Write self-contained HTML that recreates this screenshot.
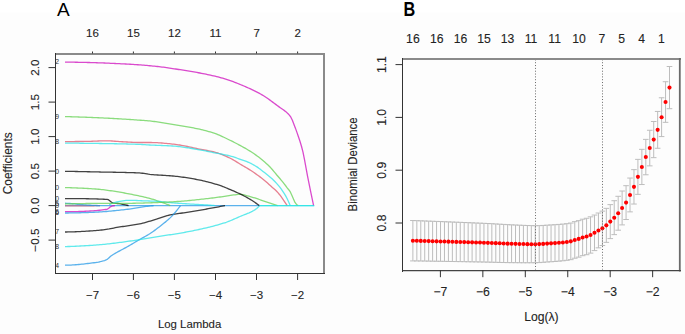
<!DOCTYPE html>
<html><head><meta charset="utf-8"><style>
html,body{margin:0;padding:0;background:#fff;width:685px;height:334px;overflow:hidden}
svg{display:block}
</style></head><body>
<svg width="685" height="334" viewBox="0 0 685 334">
<style>text{paint-order:normal}.t{stroke:#333;stroke-width:0.12px}</style>
<rect width="685" height="334" fill="#ffffff"/>
<rect y="12.6" width="685" height="322" fill="#fdfdfd"/>
<defs><clipPath id="cl"><rect x="55.5" y="53.5" width="268" height="219.5"/></clipPath></defs>
<g clip-path="url(#cl)">
<polyline points="65.00,205.60 259.80,205.60" fill="none" stroke="#2297E6" stroke-width="1.3" stroke-opacity="0.74" stroke-linejoin="round"/>
<polyline points="259.80,205.60 314.20,205.60" fill="none" stroke="#28E2E5" stroke-width="1.3" stroke-opacity="0.74" stroke-linejoin="round"/>
<polyline points="65.00,198.60 66.55,198.60 68.10,198.60 69.65,198.60 71.20,198.61 72.76,198.61 74.31,198.62 75.86,198.63 77.41,198.64 78.96,198.65 80.51,198.67 82.06,198.68 83.61,198.70 85.17,198.72 86.72,198.75 88.27,198.77 89.82,198.81 91.37,198.84 92.92,198.87 94.47,198.91 96.02,198.96 97.58,199.00 99.13,199.06 100.68,199.11 102.23,199.17 103.78,199.23 105.33,199.30 106.88,199.37 108.43,199.71 109.99,200.94 111.54,202.24 113.09,202.80 114.64,203.10 116.19,203.32 117.74,203.51 119.29,203.72 120.84,203.98 122.40,204.27 123.95,204.58 125.50,204.91 127.05,205.25 128.60,205.60" fill="none" stroke="#000000" stroke-width="1.3" stroke-opacity="0.74" stroke-linejoin="round"/>
<polyline points="65.00,205.90 66.59,205.90 68.18,205.90 69.77,205.90 71.36,205.89 72.95,205.89 74.55,205.88 76.14,205.88 77.73,205.87 79.32,205.86 80.91,205.86 82.50,205.85 84.09,205.84 85.68,205.83 87.27,205.82 88.86,205.81 90.45,205.80 92.05,205.78 93.64,205.75 95.23,205.72 96.82,205.68 98.41,205.64 100.00,205.60" fill="none" stroke="#DF536B" stroke-width="1.3" stroke-opacity="0.74" stroke-linejoin="round"/>
<polyline points="65.00,187.60 66.52,187.63 68.05,187.67 69.57,187.71 71.10,187.76 72.62,187.81 74.15,187.87 75.67,187.93 77.20,187.99 78.72,188.05 80.25,188.12 81.77,188.19 83.30,188.26 84.82,188.34 86.34,188.42 87.87,188.51 89.39,188.60 90.92,188.70 92.44,188.80 93.97,188.91 95.49,189.02 97.02,189.14 98.54,189.27 100.07,189.41 101.59,189.55 103.12,189.72 104.64,189.90 106.17,190.10 107.69,190.31 109.21,190.53 110.74,190.75 112.26,190.98 113.79,191.21 115.31,191.45 116.84,191.69 118.36,191.93 119.89,192.19 121.41,192.45 122.94,192.73 124.46,193.00 125.99,193.29 127.51,193.58 129.03,193.87 130.56,194.17 132.08,194.47 133.61,194.78 135.13,195.09 136.66,195.40 138.18,195.72 139.71,196.04 141.23,196.38 142.76,196.72 144.28,197.07 145.81,197.43 147.33,197.81 148.86,198.20 150.38,198.60 151.90,199.03 153.43,199.49 154.95,199.98 156.48,200.50 158.00,201.04 159.53,201.58 161.05,202.11 162.58,202.65 164.10,203.19 165.63,203.76 167.15,204.35 168.68,204.96 170.20,205.60" fill="none" stroke="#61D04F" stroke-width="1.3" stroke-opacity="0.74" stroke-linejoin="round"/>
<polyline points="65.00,203.20 66.59,203.30 68.18,203.41 69.77,203.52 71.36,203.65 72.95,203.78 74.55,203.94 76.14,204.11 77.73,204.28 79.32,204.44 80.91,204.58 82.50,204.71 84.09,204.84 85.68,204.96 87.27,205.06 88.86,205.15 90.45,205.23 92.05,205.31 93.64,205.38 95.23,205.45 96.82,205.51 98.41,205.56 100.00,205.60" fill="none" stroke="#2297E6" stroke-width="1.3" stroke-opacity="0.74" stroke-linejoin="round"/>
<polyline points="109.20,204.90 110.73,204.03 112.27,203.26 113.80,202.77 115.33,202.37 116.87,202.00 118.40,201.65 119.93,201.33 121.47,201.05 123.00,200.81 124.53,200.61 126.07,200.45 127.60,200.35 129.13,200.30 130.67,200.31 132.20,200.34 133.73,200.38 135.27,200.44 136.80,200.52 138.33,200.59 139.87,200.67 141.40,200.74 142.93,200.80 144.47,200.85 146.00,200.90 147.53,200.95 149.07,200.99 150.60,201.04 152.13,201.09 153.67,201.14 155.20,201.20 156.73,201.28 158.27,201.37 159.80,201.49 161.33,201.64 162.87,201.81 164.40,201.99 165.93,202.18 167.47,202.35 169.00,202.51 170.53,202.64 172.07,202.77 173.60,202.89 175.13,203.01 176.67,203.12 178.20,203.23 179.73,203.34 181.27,203.44 182.80,203.54 184.33,203.64 185.87,203.74 187.40,203.84 188.93,203.93 190.47,204.03 192.00,204.12 193.53,204.21 195.07,204.29 196.60,204.37 198.13,204.45 199.67,204.53 201.20,204.61 202.73,204.70 204.27,204.79 205.80,204.89 207.33,204.99 208.87,205.10 210.40,205.22 211.93,205.34 213.47,205.47 215.00,205.60" fill="none" stroke="#28E2E5" stroke-width="1.3" stroke-opacity="0.74" stroke-linejoin="round"/>
<polyline points="65.00,211.70 66.56,211.70 68.12,211.69 69.69,211.68 71.25,211.67 72.81,211.65 74.38,211.62 75.94,211.59 77.50,211.56 79.06,211.51 80.62,211.46 82.19,211.41 83.75,211.34 85.31,211.27 86.88,211.19 88.44,211.11 90.00,211.01 91.56,210.91 93.12,210.79 94.69,210.67 96.25,210.54 97.81,210.39 99.38,210.24 100.94,210.08 102.50,209.90 104.06,209.71 105.62,209.51 107.19,209.30 108.75,208.29 110.31,206.78 111.88,206.13 113.44,205.75 115.00,205.60" fill="none" stroke="#CD0BBC" stroke-width="1.3" stroke-opacity="0.74" stroke-linejoin="round"/>
<polyline points="65.00,232.00 66.52,231.99 68.05,231.97 69.57,231.94 71.10,231.91 72.62,231.86 74.14,231.81 75.67,231.75 77.19,231.69 78.71,231.61 80.24,231.54 81.76,231.45 83.29,231.37 84.81,231.28 86.33,231.18 87.86,231.08 89.38,230.98 90.90,230.88 92.43,230.78 93.95,230.67 95.48,230.57 97.00,230.45 98.52,230.31 100.05,230.16 101.57,230.00 103.10,229.82 104.62,229.63 106.14,229.43 107.67,229.22 109.19,228.98 110.71,228.68 112.24,228.36 113.76,228.04 115.29,227.73 116.81,227.46 118.33,227.20 119.86,226.96 121.38,226.73 122.90,226.51 124.43,226.29 125.95,226.07 127.48,225.86 129.00,225.64 130.52,225.42 132.05,225.20 133.57,224.96 135.10,224.71 136.62,224.45 138.14,224.17 139.67,223.87 141.19,223.54 142.71,223.18 144.24,222.79 145.76,222.37 147.29,221.93 148.81,221.48 150.33,221.02 151.86,220.55 153.38,220.09 154.90,219.63 156.43,219.16 157.95,218.65 159.48,218.12 161.00,217.59 162.52,217.06 164.05,216.55 165.57,216.07 167.10,215.64 168.62,215.26 170.14,214.94 171.67,214.65 173.19,214.38 174.71,214.13 176.24,213.90 177.76,213.68 179.29,213.46 180.81,213.24 182.33,213.01 183.86,212.78 185.38,212.54 186.90,212.29 188.43,212.04 189.95,211.80 191.48,211.55 193.00,211.30 194.52,211.06 196.05,210.81 197.57,210.56 199.10,210.30 200.62,210.05 202.14,209.79 203.67,209.53 205.19,209.27 206.71,209.00 208.24,208.73 209.76,208.46 211.29,208.18 212.81,207.90 214.33,207.62 215.86,207.34 217.38,207.06 218.90,206.77 220.43,206.48 221.95,206.19 223.48,205.90 225.00,205.60" fill="none" stroke="#000000" stroke-width="1.3" stroke-opacity="0.74" stroke-linejoin="round"/>
<polyline points="65.00,141.60 66.51,141.60 68.02,141.59 69.53,141.58 71.05,141.57 72.56,141.56 74.07,141.54 75.58,141.52 77.09,141.50 78.60,141.48 80.12,141.46 81.63,141.44 83.14,141.42 84.65,141.39 86.16,141.37 87.67,141.34 89.19,141.31 90.70,141.29 92.21,141.25 93.72,141.20 95.23,141.14 96.74,141.08 98.25,141.02 99.77,140.96 101.28,140.91 102.79,140.86 104.30,140.83 105.81,140.81 107.32,140.80 108.84,140.83 110.35,140.90 111.86,140.99 113.37,141.10 114.88,141.23 116.39,141.35 117.90,141.47 119.42,141.57 120.93,141.65 122.44,141.74 123.95,141.83 125.46,141.92 126.97,142.01 128.49,142.10 130.00,142.18 131.51,142.26 133.02,142.33 134.53,142.39 136.04,142.44 137.56,142.48 139.07,142.50 140.58,142.50 142.09,142.50 143.60,142.50 145.11,142.50 146.62,142.50 148.14,142.50 149.65,142.50 151.16,142.51 152.67,142.53 154.18,142.57 155.69,142.64 157.21,142.71 158.72,142.80 160.23,142.91 161.74,143.02 163.25,143.15 164.76,143.28 166.27,143.42 167.79,143.57 169.30,143.72 170.81,143.87 172.32,144.03 173.83,144.18 175.34,144.35 176.86,144.55 178.37,144.77 179.88,145.01 181.39,145.28 182.90,145.56 184.41,145.86 185.93,146.17 187.44,146.49 188.95,146.82 190.46,147.15 191.97,147.49 193.48,147.82 194.99,148.15 196.51,148.48 198.02,148.80 199.53,149.11 201.04,149.40 202.55,149.68 204.06,149.95 205.58,150.22 207.09,150.49 208.60,150.78 210.11,151.07 211.62,151.39 213.13,151.73 214.64,152.11 216.16,152.52 217.67,152.99 219.18,153.50 220.69,154.06 222.20,154.65 223.71,155.28 225.23,155.94 226.74,156.62 228.25,157.32 229.76,158.03 231.27,158.79 232.78,159.62 234.30,160.51 235.81,161.43 237.32,162.37 238.83,163.30 240.34,164.20 241.85,165.09 243.36,165.97 244.88,166.86 246.39,167.76 247.90,168.67 249.41,169.61 250.92,170.57 252.43,171.56 253.95,172.57 255.46,173.62 256.97,174.69 258.48,175.78 259.99,176.89 261.50,178.03 263.01,179.20 264.53,180.41 266.04,181.68 267.55,183.03 269.06,184.42 270.57,185.81 272.08,187.15 273.60,188.44 275.11,189.76 276.62,191.21 278.13,192.86 279.64,194.72 281.15,196.72 282.67,198.84 284.18,201.15 285.69,203.42 287.20,205.60" fill="none" stroke="#DF536B" stroke-width="1.3" stroke-opacity="0.74" stroke-linejoin="round"/>
<polyline points="65.00,204.00 66.52,203.95 68.04,203.90 69.56,203.85 71.07,203.81 72.59,203.76 74.11,203.72 75.63,203.68 77.15,203.65 78.67,203.62 80.19,203.60 81.70,203.58 83.22,203.55 84.74,203.54 86.26,203.52 87.78,203.50 89.30,203.48 90.82,203.47 92.33,203.45 93.85,203.44 95.37,203.43 96.89,203.42 98.41,203.41 99.93,203.40 101.45,203.39 102.96,203.39 104.48,203.38 106.00,203.38 107.52,203.37 109.04,203.37 110.56,203.36 112.08,203.36 113.59,203.36 115.11,203.35 116.63,203.35 118.15,203.35 119.67,203.34 121.19,203.34 122.71,203.33 124.22,203.33 125.74,203.32 127.26,203.31 128.78,203.31 130.30,203.30 131.82,203.28 133.34,203.27 134.85,203.24 136.37,203.21 137.89,203.18 139.41,203.14 140.93,203.10 142.45,203.06 143.97,203.01 145.48,202.96 147.00,202.91 148.52,202.85 150.04,202.79 151.56,202.73 153.08,202.68 154.60,202.61 156.11,202.55 157.63,202.49 159.15,202.43 160.67,202.37 162.19,202.31 163.71,202.25 165.23,202.18 166.74,202.10 168.26,202.03 169.78,201.95 171.30,201.87 172.82,201.78 174.34,201.69 175.86,201.60 177.37,201.50 178.89,201.40 180.41,201.30 181.93,201.19 183.45,201.07 184.97,200.94 186.49,200.80 188.00,200.66 189.52,200.51 191.04,200.36 192.56,200.20 194.08,200.04 195.60,199.88 197.12,199.71 198.63,199.55 200.15,199.38 201.67,199.22 203.19,199.05 204.71,198.88 206.23,198.71 207.75,198.54 209.26,198.36 210.78,198.18 212.30,197.99 213.82,197.81 215.34,197.61 216.86,197.42 218.38,197.22 219.89,197.01 221.41,196.80 222.93,196.56 224.45,196.32 225.97,196.07 227.49,195.83 229.01,195.60 230.52,195.40 232.04,195.19 233.56,194.98 235.08,194.77 236.60,194.59 238.12,194.46 239.64,194.40 241.15,194.45 242.67,194.65 244.19,194.95 245.71,195.33 247.23,195.77 248.75,196.23 250.27,196.68 251.78,197.10 253.30,197.53 254.82,197.99 256.34,198.48 257.86,198.98 259.38,199.50 260.90,200.03 262.41,200.56 263.93,201.09 265.45,201.62 266.97,202.12 268.49,202.62 270.01,203.12 271.53,203.62 273.04,204.11 274.56,204.61 276.08,205.10 277.60,205.60" fill="none" stroke="#61D04F" stroke-width="1.3" stroke-opacity="0.74" stroke-linejoin="round"/>
<polyline points="65.00,265.20 66.52,265.19 68.04,265.16 69.56,265.11 71.08,265.05 72.60,264.97 74.12,264.87 75.64,264.76 77.16,264.64 78.68,264.51 80.20,264.36 81.72,264.21 83.24,264.05 84.76,263.88 86.28,263.70 87.80,263.52 89.32,263.33 90.84,263.14 92.36,262.94 93.88,262.75 95.39,262.54 96.91,262.30 98.43,262.04 99.95,261.74 101.47,261.39 102.99,260.99 104.51,260.52 106.03,259.98 107.55,259.14 109.07,257.69 110.59,256.28 112.11,255.23 113.63,254.29 115.15,253.39 116.67,252.51 118.19,251.66 119.71,250.84 121.23,250.03 122.75,249.23 124.27,248.42 125.79,247.60 127.31,246.74 128.83,245.87 130.35,244.99 131.87,244.09 133.39,243.19 134.91,242.29 136.43,241.39 137.95,240.49 139.47,239.61 140.99,238.74 142.51,237.90 144.03,237.07 145.55,236.23 147.07,235.37 148.59,234.47 150.11,233.51 151.62,232.50 153.14,231.44 154.66,230.35 156.18,229.22 157.70,228.07 159.22,226.90 160.74,225.72 162.26,224.54 163.78,223.35 165.30,222.13 166.82,220.86 168.34,219.53 169.86,218.12 171.38,216.61 172.90,215.00 174.42,213.29 175.94,211.49 177.46,209.60 178.98,207.64 180.50,205.60" fill="none" stroke="#2297E6" stroke-width="1.3" stroke-opacity="0.74" stroke-linejoin="round"/>
<polyline points="65.00,246.60 66.52,246.56 68.04,246.52 69.57,246.48 71.09,246.43 72.61,246.37 74.13,246.31 75.65,246.24 77.17,246.17 78.70,246.10 80.22,246.02 81.74,245.94 83.26,245.85 84.78,245.76 86.31,245.67 87.83,245.58 89.35,245.48 90.87,245.38 92.39,245.28 93.92,245.17 95.44,245.07 96.96,244.96 98.48,244.84 100.00,244.71 101.53,244.57 103.05,244.43 104.57,244.28 106.09,244.13 107.61,243.96 109.13,243.79 110.66,243.62 112.18,243.44 113.70,243.26 115.22,243.07 116.74,242.87 118.27,242.68 119.79,242.47 121.31,242.27 122.83,242.06 124.35,241.85 125.88,241.64 127.40,241.42 128.92,241.20 130.44,240.99 131.96,240.77 133.48,240.55 135.01,240.32 136.53,240.10 138.05,239.88 139.57,239.66 141.09,239.44 142.62,239.20 144.14,238.96 145.66,238.71 147.18,238.45 148.70,238.18 150.23,237.92 151.75,237.65 153.27,237.39 154.79,237.12 156.31,236.86 157.83,236.61 159.36,236.37 160.88,236.13 162.40,235.89 163.92,235.66 165.44,235.43 166.97,235.20 168.49,234.98 170.01,234.75 171.53,234.52 173.05,234.29 174.57,234.06 176.10,233.82 177.62,233.58 179.14,233.33 180.66,233.08 182.18,232.81 183.71,232.54 185.23,232.26 186.75,231.97 188.27,231.68 189.79,231.38 191.32,231.08 192.84,230.77 194.36,230.46 195.88,230.15 197.40,229.83 198.93,229.50 200.45,229.17 201.97,228.83 203.49,228.49 205.01,228.14 206.53,227.78 208.06,227.41 209.58,227.03 211.10,226.65 212.62,226.26 214.14,225.86 215.67,225.45 217.19,225.02 218.71,224.59 220.23,224.15 221.75,223.70 223.28,223.24 224.80,222.76 226.32,222.26 227.84,221.71 229.36,221.12 230.88,220.50 232.41,219.85 233.93,219.18 235.45,218.51 236.97,217.83 238.49,217.15 240.02,216.49 241.54,215.86 243.06,215.25 244.58,214.66 246.10,214.07 247.62,213.45 249.15,212.81 250.67,212.12 252.19,211.36 253.71,210.53 255.23,209.58 256.76,208.40 258.28,207.04 259.80,205.60" fill="none" stroke="#28E2E5" stroke-width="1.3" stroke-opacity="0.74" stroke-linejoin="round"/>
<polyline points="65.00,62.10 66.52,62.11 68.03,62.12 69.55,62.14 71.06,62.16 72.58,62.18 74.10,62.20 75.61,62.23 77.13,62.25 78.64,62.28 80.16,62.31 81.67,62.34 83.19,62.38 84.71,62.41 86.22,62.45 87.74,62.48 89.25,62.52 90.77,62.56 92.29,62.59 93.80,62.63 95.32,62.68 96.83,62.73 98.35,62.78 99.86,62.84 101.38,62.89 102.90,62.95 104.41,63.02 105.93,63.08 107.44,63.15 108.96,63.22 110.48,63.29 111.99,63.36 113.51,63.43 115.02,63.50 116.54,63.57 118.05,63.64 119.57,63.72 121.09,63.79 122.60,63.87 124.12,63.94 125.63,64.02 127.15,64.10 128.67,64.19 130.18,64.27 131.70,64.36 133.21,64.45 134.73,64.55 136.25,64.64 137.76,64.74 139.28,64.85 140.79,64.96 142.31,65.07 143.82,65.19 145.34,65.32 146.86,65.45 148.37,65.59 149.89,65.73 151.40,65.88 152.92,66.03 154.44,66.19 155.95,66.35 157.47,66.51 158.98,66.68 160.50,66.86 162.01,67.04 163.53,67.23 165.05,67.43 166.56,67.64 168.08,67.86 169.59,68.08 171.11,68.30 172.63,68.54 174.14,68.77 175.66,69.01 177.17,69.25 178.69,69.49 180.20,69.73 181.72,69.98 183.24,70.22 184.75,70.46 186.27,70.70 187.78,70.94 189.30,71.19 190.82,71.43 192.33,71.69 193.85,71.94 195.36,72.20 196.88,72.46 198.40,72.74 199.91,73.01 201.43,73.30 202.94,73.59 204.46,73.89 205.97,74.20 207.49,74.52 209.01,74.84 210.52,75.18 212.04,75.52 213.55,75.87 215.07,76.23 216.59,76.61 218.10,76.99 219.62,77.39 221.13,77.80 222.65,78.22 224.16,78.65 225.68,79.10 227.20,79.58 228.71,80.08 230.23,80.61 231.74,81.16 233.26,81.72 234.78,82.31 236.29,82.90 237.81,83.51 239.32,84.12 240.84,84.74 242.35,85.37 243.87,86.01 245.39,86.66 246.90,87.32 248.42,87.99 249.93,88.68 251.45,89.38 252.97,90.10 254.48,90.84 256.00,91.60 257.51,92.38 259.03,93.19 260.55,94.02 262.06,94.88 263.58,95.79 265.09,96.76 266.61,97.77 268.12,98.82 269.64,99.90 271.16,101.00 272.67,102.12 274.19,103.24 275.70,104.37 277.22,105.50 278.74,106.61 280.25,107.69 281.77,108.73 283.28,109.78 284.80,110.89 286.31,112.12 287.83,113.50 289.35,115.09 290.86,117.16 292.38,120.34 293.89,124.22 295.41,128.15 296.93,132.36 298.44,136.78 299.96,141.28 301.47,146.23 302.99,152.20 304.50,159.71 306.02,167.98 307.54,176.08 309.05,183.61 310.57,191.04 312.08,198.37 313.60,205.60" fill="none" stroke="#CD0BBC" stroke-width="1.3" stroke-opacity="0.74" stroke-linejoin="round"/>
<polyline points="65.00,171.30 66.52,171.33 68.04,171.35 69.55,171.38 71.07,171.41 72.59,171.44 74.11,171.47 75.63,171.50 77.14,171.52 78.66,171.55 80.18,171.58 81.70,171.61 83.22,171.64 84.73,171.68 86.25,171.71 87.77,171.74 89.29,171.77 90.81,171.80 92.32,171.83 93.84,171.87 95.36,171.90 96.88,171.93 98.40,171.96 99.91,172.00 101.43,172.03 102.95,172.06 104.47,172.09 105.99,172.12 107.50,172.15 109.02,172.17 110.54,172.20 112.06,172.22 113.58,172.25 115.09,172.27 116.61,172.30 118.13,172.33 119.65,172.36 121.16,172.39 122.68,172.42 124.20,172.45 125.72,172.49 127.24,172.53 128.75,172.57 130.27,172.62 131.79,172.66 133.31,172.72 134.83,172.77 136.34,172.83 137.86,172.90 139.38,172.97 140.90,173.06 142.42,173.23 143.93,173.46 145.45,173.72 146.97,173.98 148.49,174.22 150.01,174.40 151.52,174.54 153.04,174.67 154.56,174.79 156.08,174.89 157.60,174.99 159.11,175.09 160.63,175.18 162.15,175.27 163.67,175.35 165.19,175.44 166.70,175.54 168.22,175.63 169.74,175.74 171.26,175.86 172.78,175.99 174.29,176.13 175.81,176.28 177.33,176.45 178.85,176.63 180.37,176.82 181.88,177.02 183.40,177.24 184.92,177.46 186.44,177.69 187.96,177.93 189.47,178.18 190.99,178.44 192.51,178.70 194.03,178.98 195.55,179.25 197.06,179.54 198.58,179.83 200.10,180.14 201.62,180.46 203.14,180.80 204.65,181.15 206.17,181.52 207.69,181.90 209.21,182.30 210.73,182.71 212.24,183.14 213.76,183.57 215.28,184.02 216.80,184.49 218.31,184.96 219.83,185.45 221.35,185.96 222.87,186.52 224.39,187.12 225.90,187.74 227.42,188.39 228.94,189.04 230.46,189.68 231.98,190.33 233.49,190.97 235.01,191.63 236.53,192.31 238.05,192.99 239.57,193.71 241.08,194.44 242.60,195.20 244.12,195.98 245.64,196.78 247.16,197.62 248.67,198.48 250.19,199.37 251.71,200.29 253.23,201.27 254.75,202.29 256.26,203.36 257.78,204.46 259.30,205.60" fill="none" stroke="#000000" stroke-width="1.3" stroke-opacity="0.74" stroke-linejoin="round"/>
<polyline points="65.00,116.60 66.51,116.64 68.03,116.68 69.54,116.72 71.05,116.76 72.56,116.80 74.08,116.85 75.59,116.89 77.10,116.94 78.62,116.99 80.13,117.04 81.64,117.09 83.16,117.15 84.67,117.20 86.18,117.26 87.69,117.31 89.21,117.37 90.72,117.43 92.23,117.49 93.75,117.55 95.26,117.61 96.77,117.68 98.29,117.75 99.80,117.82 101.31,117.89 102.82,117.96 104.34,118.03 105.85,118.11 107.36,118.19 108.88,118.27 110.39,118.35 111.90,118.43 113.42,118.51 114.93,118.60 116.44,118.68 117.95,118.77 119.47,118.85 120.98,118.94 122.49,119.03 124.01,119.13 125.52,119.22 127.03,119.32 128.55,119.41 130.06,119.51 131.57,119.61 133.08,119.72 134.60,119.82 136.11,119.92 137.62,120.03 139.14,120.14 140.65,120.25 142.16,120.36 143.68,120.47 145.19,120.58 146.70,120.70 148.21,120.83 149.73,120.97 151.24,121.13 152.75,121.30 154.27,121.49 155.78,121.69 157.29,121.90 158.81,122.12 160.32,122.35 161.83,122.58 163.34,122.83 164.86,123.07 166.37,123.32 167.88,123.58 169.40,123.83 170.91,124.09 172.42,124.34 173.94,124.59 175.45,124.84 176.96,125.08 178.47,125.33 179.99,125.58 181.50,125.82 183.01,126.08 184.53,126.33 186.04,126.59 187.55,126.85 189.06,127.12 190.58,127.39 192.09,127.68 193.60,127.97 195.12,128.27 196.63,128.57 198.14,128.89 199.66,129.22 201.17,129.57 202.68,129.92 204.19,130.30 205.71,130.69 207.22,131.10 208.73,131.52 210.25,131.97 211.76,132.43 213.27,132.92 214.79,133.43 216.30,133.97 217.81,134.56 219.32,135.19 220.84,135.85 222.35,136.54 223.86,137.26 225.38,137.99 226.89,138.73 228.40,139.47 229.92,140.21 231.43,140.95 232.94,141.70 234.45,142.46 235.97,143.24 237.48,144.03 238.99,144.83 240.51,145.64 242.02,146.47 243.53,147.32 245.05,148.18 246.56,149.06 248.07,149.96 249.58,150.87 251.10,151.82 252.61,152.79 254.12,153.80 255.64,154.85 257.15,155.95 258.66,157.10 260.18,158.29 261.69,159.53 263.20,160.79 264.71,162.07 266.23,163.40 267.74,164.79 269.25,166.25 270.77,167.81 272.28,169.52 273.79,171.33 275.31,173.18 276.82,175.02 278.33,176.77 279.84,178.51 281.36,180.31 282.87,182.14 284.38,184.04 285.90,186.02 287.41,188.08 288.92,189.98 290.44,192.21 291.95,195.55 293.46,199.09 294.97,202.45 296.49,204.45 298.00,205.60" fill="none" stroke="#61D04F" stroke-width="1.3" stroke-opacity="0.74" stroke-linejoin="round"/>
<polyline points="65.00,213.00 66.53,213.00 68.06,212.99 69.59,212.97 71.12,212.95 72.65,212.93 74.18,212.90 75.71,212.87 77.23,212.83 78.76,212.79 80.29,212.74 81.82,212.70 83.35,212.65 84.88,212.59 86.41,212.54 87.94,212.48 89.47,212.42 91.00,212.36 92.53,212.30 94.06,212.24 95.59,212.18 97.12,212.10 98.64,212.02 100.17,211.93 101.70,211.83 103.23,211.72 104.76,211.61 106.29,211.48 107.82,211.35 109.35,211.21 110.88,211.07 112.41,210.92 113.94,210.77 115.47,210.61 117.00,210.45 118.53,210.29 120.06,210.12 121.58,209.95 123.11,209.78 124.64,209.61 126.17,209.44 127.70,209.26 129.23,209.06 130.76,208.85 132.29,208.62 133.82,208.38 135.35,208.14 136.88,207.89 138.41,207.64 139.94,207.39 141.47,207.15 142.99,206.91 144.52,206.69 146.05,206.47 147.58,206.28 149.11,206.10 150.64,205.92 152.17,205.76 153.70,205.60" fill="none" stroke="#2297E6" stroke-width="1.3" stroke-opacity="0.74" stroke-linejoin="round"/>
<polyline points="65.00,143.10 66.51,143.11 68.02,143.12 69.53,143.13 71.05,143.14 72.56,143.16 74.07,143.17 75.58,143.19 77.09,143.20 78.60,143.22 80.11,143.23 81.63,143.25 83.14,143.27 84.65,143.29 86.16,143.31 87.67,143.33 89.18,143.35 90.69,143.37 92.21,143.39 93.72,143.41 95.23,143.43 96.74,143.45 98.25,143.47 99.76,143.50 101.27,143.52 102.79,143.54 104.30,143.57 105.81,143.59 107.32,143.61 108.83,143.64 110.34,143.66 111.85,143.69 113.37,143.72 114.88,143.74 116.39,143.77 117.90,143.80 119.41,143.83 120.92,143.86 122.43,143.90 123.94,143.93 125.46,143.97 126.97,144.01 128.48,144.04 129.99,144.08 131.50,144.13 133.01,144.17 134.52,144.22 136.04,144.26 137.55,144.31 139.06,144.37 140.57,144.42 142.08,144.50 143.59,144.59 145.10,144.69 146.62,144.79 148.13,144.89 149.64,144.98 151.15,145.06 152.66,145.13 154.17,145.20 155.68,145.26 157.20,145.32 158.71,145.38 160.22,145.43 161.73,145.49 163.24,145.55 164.75,145.61 166.26,145.67 167.78,145.74 169.29,145.82 170.80,145.90 172.31,145.99 173.82,146.09 175.33,146.20 176.84,146.34 178.36,146.49 179.87,146.66 181.38,146.85 182.89,147.05 184.40,147.27 185.91,147.50 187.42,147.74 188.94,147.98 190.45,148.24 191.96,148.50 193.47,148.76 194.98,149.02 196.49,149.29 198.00,149.55 199.52,149.82 201.03,150.08 202.54,150.36 204.05,150.65 205.56,150.95 207.07,151.26 208.58,151.57 210.10,151.89 211.61,152.20 213.12,152.52 214.63,152.83 216.14,153.12 217.65,153.41 219.16,153.69 220.68,153.97 222.19,154.25 223.70,154.54 225.21,154.84 226.72,155.16 228.23,155.50 229.74,155.86 231.26,156.26 232.77,156.71 234.28,157.20 235.79,157.71 237.30,158.24 238.81,158.78 240.32,159.31 241.83,159.84 243.35,160.37 244.86,160.91 246.37,161.48 247.88,162.08 249.39,162.72 250.90,163.43 252.41,164.21 253.93,165.06 255.44,165.96 256.95,166.91 258.46,167.91 259.97,169.00 261.48,170.18 262.99,171.39 264.51,172.61 266.02,173.79 267.53,174.96 269.04,176.15 270.55,177.41 272.06,178.76 273.57,180.20 275.09,181.72 276.60,183.35 278.11,185.08 279.62,186.94 281.13,188.93 282.64,191.07 284.15,193.38 285.67,195.93 287.18,198.76 288.69,201.98 290.20,205.60" fill="none" stroke="#28E2E5" stroke-width="1.3" stroke-opacity="0.74" stroke-linejoin="round"/>
<polyline points="259.80,205.60 314.20,205.60" fill="none" stroke="#28E2E5" stroke-width="1.3" stroke-opacity="0.74" stroke-linejoin="round"/>
<text x="59" y="64.4" font-family='"Liberation Sans", sans-serif' font-size="6.8" fill="#333" text-anchor="end">12</text>
<text x="59" y="119.4" font-family='"Liberation Sans", sans-serif' font-size="6.8" fill="#333" text-anchor="end">9</text>
<text x="59" y="144.2" font-family='"Liberation Sans", sans-serif' font-size="6.8" fill="#333" text-anchor="end">8</text>
<text x="59" y="173.9" font-family='"Liberation Sans", sans-serif' font-size="6.8" fill="#333" text-anchor="end">0</text>
<text x="59" y="190.4" font-family='"Liberation Sans", sans-serif' font-size="6.8" fill="#333" text-anchor="end">0</text>
<text x="59" y="201.4" font-family='"Liberation Sans", sans-serif' font-size="6.8" fill="#333" text-anchor="end">0</text>
<text x="59" y="205.9" font-family='"Liberation Sans", sans-serif' font-size="6.8" fill="#333" text-anchor="end">5</text>
<text x="59" y="208.4" font-family='"Liberation Sans", sans-serif' font-size="6.8" fill="#333" text-anchor="end">0</text>
<text x="59" y="214.4" font-family='"Liberation Sans", sans-serif' font-size="6.8" fill="#333" text-anchor="end">6</text>
<text x="59" y="215.4" font-family='"Liberation Sans", sans-serif' font-size="6.8" fill="#333" text-anchor="end">6</text>
<text x="59" y="234.4" font-family='"Liberation Sans", sans-serif' font-size="6.8" fill="#333" text-anchor="end">7</text>
<text x="59" y="249.0" font-family='"Liberation Sans", sans-serif' font-size="6.8" fill="#333" text-anchor="end">8</text>
<text x="59" y="267.6" font-family='"Liberation Sans", sans-serif' font-size="6.8" fill="#333" text-anchor="end">4</text>
</g>
<line x1="55" y1="54" x2="325" y2="54" stroke="#8a8a8a" stroke-width="2"/>
<line x1="324" y1="53" x2="324" y2="274" stroke="#8a8a8a" stroke-width="2"/>
<line x1="55" y1="273.5" x2="325" y2="273.5" stroke="#333" stroke-width="1"/>
<line x1="55.5" y1="53" x2="55.5" y2="274" stroke="#333" stroke-width="1"/>
<line x1="92.50" y1="273" x2="92.50" y2="280" stroke="#333333" stroke-width="1"/>
<text x="92.50" y="299.4" font-family='"Liberation Sans", sans-serif' font-size="11.5" class="t" fill="#222" text-anchor="middle">−7</text>
<line x1="92.50" y1="53.5" x2="92.50" y2="51.5" stroke="#333333" stroke-width="1"/>
<line x1="133.40" y1="273" x2="133.40" y2="280" stroke="#333333" stroke-width="1"/>
<text x="133.40" y="299.4" font-family='"Liberation Sans", sans-serif' font-size="11.5" class="t" fill="#222" text-anchor="middle">−6</text>
<line x1="133.40" y1="53.5" x2="133.40" y2="51.5" stroke="#333333" stroke-width="1"/>
<line x1="174.40" y1="273" x2="174.40" y2="280" stroke="#333333" stroke-width="1"/>
<text x="174.40" y="299.4" font-family='"Liberation Sans", sans-serif' font-size="11.5" class="t" fill="#222" text-anchor="middle">−5</text>
<line x1="174.40" y1="53.5" x2="174.40" y2="51.5" stroke="#333333" stroke-width="1"/>
<line x1="215.50" y1="273" x2="215.50" y2="280" stroke="#333333" stroke-width="1"/>
<text x="215.50" y="299.4" font-family='"Liberation Sans", sans-serif' font-size="11.5" class="t" fill="#222" text-anchor="middle">−4</text>
<line x1="215.50" y1="53.5" x2="215.50" y2="51.5" stroke="#333333" stroke-width="1"/>
<line x1="256.50" y1="273" x2="256.50" y2="280" stroke="#333333" stroke-width="1"/>
<text x="256.50" y="299.4" font-family='"Liberation Sans", sans-serif' font-size="11.5" class="t" fill="#222" text-anchor="middle">−3</text>
<line x1="256.50" y1="53.5" x2="256.50" y2="51.5" stroke="#333333" stroke-width="1"/>
<line x1="297.60" y1="273" x2="297.60" y2="280" stroke="#333333" stroke-width="1"/>
<text x="297.60" y="299.4" font-family='"Liberation Sans", sans-serif' font-size="11.5" class="t" fill="#222" text-anchor="middle">−2</text>
<line x1="297.60" y1="53.5" x2="297.60" y2="51.5" stroke="#333333" stroke-width="1"/>
<text x="92.40" y="36.7" font-family='"Liberation Sans", sans-serif' font-size="11.5" class="t" fill="#222" text-anchor="middle">16</text>
<text x="133.45" y="36.7" font-family='"Liberation Sans", sans-serif' font-size="11.5" class="t" fill="#222" text-anchor="middle">15</text>
<text x="174.50" y="36.7" font-family='"Liberation Sans", sans-serif' font-size="11.5" class="t" fill="#222" text-anchor="middle">12</text>
<text x="215.55" y="36.7" font-family='"Liberation Sans", sans-serif' font-size="11.5" class="t" fill="#222" text-anchor="middle">11</text>
<text x="256.60" y="36.7" font-family='"Liberation Sans", sans-serif' font-size="11.5" class="t" fill="#222" text-anchor="middle">7</text>
<text x="297.65" y="36.7" font-family='"Liberation Sans", sans-serif' font-size="11.5" class="t" fill="#222" text-anchor="middle">2</text>
<line x1="48.5" y1="67.60" x2="55.5" y2="67.60" stroke="#333333" stroke-width="1"/>
<text transform="translate(38.8,67.60) rotate(-90)" font-family='"Liberation Sans", sans-serif' font-size="11.7" class="t" fill="#222" text-anchor="middle">2.0</text>
<line x1="48.5" y1="102.10" x2="55.5" y2="102.10" stroke="#333333" stroke-width="1"/>
<text transform="translate(38.8,102.10) rotate(-90)" font-family='"Liberation Sans", sans-serif' font-size="11.7" class="t" fill="#222" text-anchor="middle">1.5</text>
<line x1="48.5" y1="136.60" x2="55.5" y2="136.60" stroke="#333333" stroke-width="1"/>
<text transform="translate(38.8,136.60) rotate(-90)" font-family='"Liberation Sans", sans-serif' font-size="11.7" class="t" fill="#222" text-anchor="middle">1.0</text>
<line x1="48.5" y1="171.10" x2="55.5" y2="171.10" stroke="#333333" stroke-width="1"/>
<text transform="translate(38.8,171.10) rotate(-90)" font-family='"Liberation Sans", sans-serif' font-size="11.7" class="t" fill="#222" text-anchor="middle">0.5</text>
<line x1="48.5" y1="205.60" x2="55.5" y2="205.60" stroke="#333333" stroke-width="1"/>
<text transform="translate(38.8,205.60) rotate(-90)" font-family='"Liberation Sans", sans-serif' font-size="11.7" class="t" fill="#222" text-anchor="middle">0.0</text>
<line x1="48.5" y1="240.10" x2="55.5" y2="240.10" stroke="#333333" stroke-width="1"/>
<text transform="translate(38.8,240.10) rotate(-90)" font-family='"Liberation Sans", sans-serif' font-size="11.7" class="t" fill="#222" text-anchor="middle">−0.5</text>
<text x="189.6" y="327.6" font-family='"Liberation Sans", sans-serif' font-size="11.4" class="t" fill="#222" text-anchor="middle">Log Lambda</text>
<text transform="translate(12.1,163.3) rotate(-90)" font-family='"Liberation Sans", sans-serif' font-size="11.9" class="t" fill="#222" text-anchor="middle">Coefficients</text>
<text x="57" y="16.4" font-family='"Liberation Sans", sans-serif' font-size="19" fill="#000">A</text>
<g>
<line x1="412.88" y1="220.52" x2="412.88" y2="260.91" stroke="#bdbdbd" stroke-width="1"/>
<line x1="410.08" y1="220.52" x2="415.68" y2="220.52" stroke="#bdbdbd" stroke-width="1"/>
<line x1="410.08" y1="260.91" x2="415.68" y2="260.91" stroke="#bdbdbd" stroke-width="1"/>
<line x1="416.83" y1="220.66" x2="416.83" y2="260.96" stroke="#bdbdbd" stroke-width="1"/>
<line x1="414.03" y1="220.66" x2="419.63" y2="220.66" stroke="#bdbdbd" stroke-width="1"/>
<line x1="414.03" y1="260.96" x2="419.63" y2="260.96" stroke="#bdbdbd" stroke-width="1"/>
<line x1="420.78" y1="220.81" x2="420.78" y2="261.01" stroke="#bdbdbd" stroke-width="1"/>
<line x1="417.98" y1="220.81" x2="423.58" y2="220.81" stroke="#bdbdbd" stroke-width="1"/>
<line x1="417.98" y1="261.01" x2="423.58" y2="261.01" stroke="#bdbdbd" stroke-width="1"/>
<line x1="424.72" y1="220.96" x2="424.72" y2="261.07" stroke="#bdbdbd" stroke-width="1"/>
<line x1="421.92" y1="220.96" x2="427.52" y2="220.96" stroke="#bdbdbd" stroke-width="1"/>
<line x1="421.92" y1="261.07" x2="427.52" y2="261.07" stroke="#bdbdbd" stroke-width="1"/>
<line x1="428.67" y1="221.11" x2="428.67" y2="261.13" stroke="#bdbdbd" stroke-width="1"/>
<line x1="425.87" y1="221.11" x2="431.47" y2="221.11" stroke="#bdbdbd" stroke-width="1"/>
<line x1="425.87" y1="261.13" x2="431.47" y2="261.13" stroke="#bdbdbd" stroke-width="1"/>
<line x1="432.62" y1="221.26" x2="432.62" y2="261.19" stroke="#bdbdbd" stroke-width="1"/>
<line x1="429.82" y1="221.26" x2="435.42" y2="221.26" stroke="#bdbdbd" stroke-width="1"/>
<line x1="429.82" y1="261.19" x2="435.42" y2="261.19" stroke="#bdbdbd" stroke-width="1"/>
<line x1="436.57" y1="221.41" x2="436.57" y2="261.25" stroke="#bdbdbd" stroke-width="1"/>
<line x1="433.77" y1="221.41" x2="439.37" y2="221.41" stroke="#bdbdbd" stroke-width="1"/>
<line x1="433.77" y1="261.25" x2="439.37" y2="261.25" stroke="#bdbdbd" stroke-width="1"/>
<line x1="440.52" y1="221.56" x2="440.52" y2="261.31" stroke="#bdbdbd" stroke-width="1"/>
<line x1="437.72" y1="221.56" x2="443.32" y2="221.56" stroke="#bdbdbd" stroke-width="1"/>
<line x1="437.72" y1="261.31" x2="443.32" y2="261.31" stroke="#bdbdbd" stroke-width="1"/>
<line x1="444.46" y1="221.72" x2="444.46" y2="261.37" stroke="#bdbdbd" stroke-width="1"/>
<line x1="441.66" y1="221.72" x2="447.26" y2="221.72" stroke="#bdbdbd" stroke-width="1"/>
<line x1="441.66" y1="261.37" x2="447.26" y2="261.37" stroke="#bdbdbd" stroke-width="1"/>
<line x1="448.41" y1="221.87" x2="448.41" y2="261.44" stroke="#bdbdbd" stroke-width="1"/>
<line x1="445.61" y1="221.87" x2="451.21" y2="221.87" stroke="#bdbdbd" stroke-width="1"/>
<line x1="445.61" y1="261.44" x2="451.21" y2="261.44" stroke="#bdbdbd" stroke-width="1"/>
<line x1="452.36" y1="222.03" x2="452.36" y2="261.50" stroke="#bdbdbd" stroke-width="1"/>
<line x1="449.56" y1="222.03" x2="455.16" y2="222.03" stroke="#bdbdbd" stroke-width="1"/>
<line x1="449.56" y1="261.50" x2="455.16" y2="261.50" stroke="#bdbdbd" stroke-width="1"/>
<line x1="456.31" y1="222.19" x2="456.31" y2="261.57" stroke="#bdbdbd" stroke-width="1"/>
<line x1="453.51" y1="222.19" x2="459.11" y2="222.19" stroke="#bdbdbd" stroke-width="1"/>
<line x1="453.51" y1="261.57" x2="459.11" y2="261.57" stroke="#bdbdbd" stroke-width="1"/>
<line x1="460.26" y1="222.34" x2="460.26" y2="261.63" stroke="#bdbdbd" stroke-width="1"/>
<line x1="457.46" y1="222.34" x2="463.06" y2="222.34" stroke="#bdbdbd" stroke-width="1"/>
<line x1="457.46" y1="261.63" x2="463.06" y2="261.63" stroke="#bdbdbd" stroke-width="1"/>
<line x1="464.20" y1="222.50" x2="464.20" y2="261.70" stroke="#bdbdbd" stroke-width="1"/>
<line x1="461.40" y1="222.50" x2="467.00" y2="222.50" stroke="#bdbdbd" stroke-width="1"/>
<line x1="461.40" y1="261.70" x2="467.00" y2="261.70" stroke="#bdbdbd" stroke-width="1"/>
<line x1="468.15" y1="222.66" x2="468.15" y2="261.77" stroke="#bdbdbd" stroke-width="1"/>
<line x1="465.35" y1="222.66" x2="470.95" y2="222.66" stroke="#bdbdbd" stroke-width="1"/>
<line x1="465.35" y1="261.77" x2="470.95" y2="261.77" stroke="#bdbdbd" stroke-width="1"/>
<line x1="472.10" y1="222.82" x2="472.10" y2="261.84" stroke="#bdbdbd" stroke-width="1"/>
<line x1="469.30" y1="222.82" x2="474.90" y2="222.82" stroke="#bdbdbd" stroke-width="1"/>
<line x1="469.30" y1="261.84" x2="474.90" y2="261.84" stroke="#bdbdbd" stroke-width="1"/>
<line x1="476.05" y1="222.99" x2="476.05" y2="261.91" stroke="#bdbdbd" stroke-width="1"/>
<line x1="473.25" y1="222.99" x2="478.85" y2="222.99" stroke="#bdbdbd" stroke-width="1"/>
<line x1="473.25" y1="261.91" x2="478.85" y2="261.91" stroke="#bdbdbd" stroke-width="1"/>
<line x1="480.00" y1="223.15" x2="480.00" y2="261.99" stroke="#bdbdbd" stroke-width="1"/>
<line x1="477.20" y1="223.15" x2="482.80" y2="223.15" stroke="#bdbdbd" stroke-width="1"/>
<line x1="477.20" y1="261.99" x2="482.80" y2="261.99" stroke="#bdbdbd" stroke-width="1"/>
<line x1="483.94" y1="223.33" x2="483.94" y2="262.07" stroke="#bdbdbd" stroke-width="1"/>
<line x1="481.14" y1="223.33" x2="486.74" y2="223.33" stroke="#bdbdbd" stroke-width="1"/>
<line x1="481.14" y1="262.07" x2="486.74" y2="262.07" stroke="#bdbdbd" stroke-width="1"/>
<line x1="487.89" y1="223.50" x2="487.89" y2="262.15" stroke="#bdbdbd" stroke-width="1"/>
<line x1="485.09" y1="223.50" x2="490.69" y2="223.50" stroke="#bdbdbd" stroke-width="1"/>
<line x1="485.09" y1="262.15" x2="490.69" y2="262.15" stroke="#bdbdbd" stroke-width="1"/>
<line x1="491.84" y1="223.70" x2="491.84" y2="262.24" stroke="#bdbdbd" stroke-width="1"/>
<line x1="489.04" y1="223.70" x2="494.64" y2="223.70" stroke="#bdbdbd" stroke-width="1"/>
<line x1="489.04" y1="262.24" x2="494.64" y2="262.24" stroke="#bdbdbd" stroke-width="1"/>
<line x1="495.79" y1="223.94" x2="495.79" y2="262.33" stroke="#bdbdbd" stroke-width="1"/>
<line x1="492.99" y1="223.94" x2="498.59" y2="223.94" stroke="#bdbdbd" stroke-width="1"/>
<line x1="492.99" y1="262.33" x2="498.59" y2="262.33" stroke="#bdbdbd" stroke-width="1"/>
<line x1="499.74" y1="224.18" x2="499.74" y2="262.44" stroke="#bdbdbd" stroke-width="1"/>
<line x1="496.94" y1="224.18" x2="502.54" y2="224.18" stroke="#bdbdbd" stroke-width="1"/>
<line x1="496.94" y1="262.44" x2="502.54" y2="262.44" stroke="#bdbdbd" stroke-width="1"/>
<line x1="503.68" y1="224.42" x2="503.68" y2="262.54" stroke="#bdbdbd" stroke-width="1"/>
<line x1="500.88" y1="224.42" x2="506.48" y2="224.42" stroke="#bdbdbd" stroke-width="1"/>
<line x1="500.88" y1="262.54" x2="506.48" y2="262.54" stroke="#bdbdbd" stroke-width="1"/>
<line x1="507.63" y1="224.64" x2="507.63" y2="262.61" stroke="#bdbdbd" stroke-width="1"/>
<line x1="504.83" y1="224.64" x2="510.43" y2="224.64" stroke="#bdbdbd" stroke-width="1"/>
<line x1="504.83" y1="262.61" x2="510.43" y2="262.61" stroke="#bdbdbd" stroke-width="1"/>
<line x1="511.58" y1="224.83" x2="511.58" y2="262.66" stroke="#bdbdbd" stroke-width="1"/>
<line x1="508.78" y1="224.83" x2="514.38" y2="224.83" stroke="#bdbdbd" stroke-width="1"/>
<line x1="508.78" y1="262.66" x2="514.38" y2="262.66" stroke="#bdbdbd" stroke-width="1"/>
<line x1="515.53" y1="225.01" x2="515.53" y2="262.70" stroke="#bdbdbd" stroke-width="1"/>
<line x1="512.73" y1="225.01" x2="518.33" y2="225.01" stroke="#bdbdbd" stroke-width="1"/>
<line x1="512.73" y1="262.70" x2="518.33" y2="262.70" stroke="#bdbdbd" stroke-width="1"/>
<line x1="519.48" y1="225.18" x2="519.48" y2="262.73" stroke="#bdbdbd" stroke-width="1"/>
<line x1="516.68" y1="225.18" x2="522.28" y2="225.18" stroke="#bdbdbd" stroke-width="1"/>
<line x1="516.68" y1="262.73" x2="522.28" y2="262.73" stroke="#bdbdbd" stroke-width="1"/>
<line x1="523.42" y1="225.35" x2="523.42" y2="262.76" stroke="#bdbdbd" stroke-width="1"/>
<line x1="520.62" y1="225.35" x2="526.22" y2="225.35" stroke="#bdbdbd" stroke-width="1"/>
<line x1="520.62" y1="262.76" x2="526.22" y2="262.76" stroke="#bdbdbd" stroke-width="1"/>
<line x1="527.37" y1="225.49" x2="527.37" y2="262.76" stroke="#bdbdbd" stroke-width="1"/>
<line x1="524.57" y1="225.49" x2="530.17" y2="225.49" stroke="#bdbdbd" stroke-width="1"/>
<line x1="524.57" y1="262.76" x2="530.17" y2="262.76" stroke="#bdbdbd" stroke-width="1"/>
<line x1="531.32" y1="225.61" x2="531.32" y2="262.75" stroke="#bdbdbd" stroke-width="1"/>
<line x1="528.52" y1="225.61" x2="534.12" y2="225.61" stroke="#bdbdbd" stroke-width="1"/>
<line x1="528.52" y1="262.75" x2="534.12" y2="262.75" stroke="#bdbdbd" stroke-width="1"/>
<line x1="535.27" y1="225.70" x2="535.27" y2="262.70" stroke="#bdbdbd" stroke-width="1"/>
<line x1="532.47" y1="225.70" x2="538.07" y2="225.70" stroke="#bdbdbd" stroke-width="1"/>
<line x1="532.47" y1="262.70" x2="538.07" y2="262.70" stroke="#bdbdbd" stroke-width="1"/>
<line x1="539.22" y1="225.63" x2="539.22" y2="262.59" stroke="#bdbdbd" stroke-width="1"/>
<line x1="536.42" y1="225.63" x2="542.02" y2="225.63" stroke="#bdbdbd" stroke-width="1"/>
<line x1="536.42" y1="262.59" x2="542.02" y2="262.59" stroke="#bdbdbd" stroke-width="1"/>
<line x1="543.16" y1="225.43" x2="543.16" y2="262.34" stroke="#bdbdbd" stroke-width="1"/>
<line x1="540.36" y1="225.43" x2="545.96" y2="225.43" stroke="#bdbdbd" stroke-width="1"/>
<line x1="540.36" y1="262.34" x2="545.96" y2="262.34" stroke="#bdbdbd" stroke-width="1"/>
<line x1="547.11" y1="225.16" x2="547.11" y2="262.03" stroke="#bdbdbd" stroke-width="1"/>
<line x1="544.31" y1="225.16" x2="549.91" y2="225.16" stroke="#bdbdbd" stroke-width="1"/>
<line x1="544.31" y1="262.03" x2="549.91" y2="262.03" stroke="#bdbdbd" stroke-width="1"/>
<line x1="551.06" y1="224.92" x2="551.06" y2="261.75" stroke="#bdbdbd" stroke-width="1"/>
<line x1="548.26" y1="224.92" x2="553.86" y2="224.92" stroke="#bdbdbd" stroke-width="1"/>
<line x1="548.26" y1="261.75" x2="553.86" y2="261.75" stroke="#bdbdbd" stroke-width="1"/>
<line x1="555.01" y1="224.70" x2="555.01" y2="261.47" stroke="#bdbdbd" stroke-width="1"/>
<line x1="552.21" y1="224.70" x2="557.81" y2="224.70" stroke="#bdbdbd" stroke-width="1"/>
<line x1="552.21" y1="261.47" x2="557.81" y2="261.47" stroke="#bdbdbd" stroke-width="1"/>
<line x1="558.96" y1="224.42" x2="558.96" y2="261.16" stroke="#bdbdbd" stroke-width="1"/>
<line x1="556.16" y1="224.42" x2="561.76" y2="224.42" stroke="#bdbdbd" stroke-width="1"/>
<line x1="556.16" y1="261.16" x2="561.76" y2="261.16" stroke="#bdbdbd" stroke-width="1"/>
<line x1="562.90" y1="224.09" x2="562.90" y2="260.78" stroke="#bdbdbd" stroke-width="1"/>
<line x1="560.10" y1="224.09" x2="565.70" y2="224.09" stroke="#bdbdbd" stroke-width="1"/>
<line x1="560.10" y1="260.78" x2="565.70" y2="260.78" stroke="#bdbdbd" stroke-width="1"/>
<line x1="566.85" y1="223.68" x2="566.85" y2="260.32" stroke="#bdbdbd" stroke-width="1"/>
<line x1="564.05" y1="223.68" x2="569.65" y2="223.68" stroke="#bdbdbd" stroke-width="1"/>
<line x1="564.05" y1="260.32" x2="569.65" y2="260.32" stroke="#bdbdbd" stroke-width="1"/>
<line x1="570.80" y1="223.06" x2="570.80" y2="259.66" stroke="#bdbdbd" stroke-width="1"/>
<line x1="568.00" y1="223.06" x2="573.60" y2="223.06" stroke="#bdbdbd" stroke-width="1"/>
<line x1="568.00" y1="259.66" x2="573.60" y2="259.66" stroke="#bdbdbd" stroke-width="1"/>
<line x1="574.75" y1="221.67" x2="574.75" y2="258.23" stroke="#bdbdbd" stroke-width="1"/>
<line x1="571.95" y1="221.67" x2="577.55" y2="221.67" stroke="#bdbdbd" stroke-width="1"/>
<line x1="571.95" y1="258.23" x2="577.55" y2="258.23" stroke="#bdbdbd" stroke-width="1"/>
<line x1="578.70" y1="220.63" x2="578.70" y2="257.15" stroke="#bdbdbd" stroke-width="1"/>
<line x1="575.90" y1="220.63" x2="581.50" y2="220.63" stroke="#bdbdbd" stroke-width="1"/>
<line x1="575.90" y1="257.15" x2="581.50" y2="257.15" stroke="#bdbdbd" stroke-width="1"/>
<line x1="582.64" y1="219.21" x2="582.64" y2="255.69" stroke="#bdbdbd" stroke-width="1"/>
<line x1="579.84" y1="219.21" x2="585.44" y2="219.21" stroke="#bdbdbd" stroke-width="1"/>
<line x1="579.84" y1="255.69" x2="585.44" y2="255.69" stroke="#bdbdbd" stroke-width="1"/>
<line x1="586.59" y1="218.27" x2="586.59" y2="254.71" stroke="#bdbdbd" stroke-width="1"/>
<line x1="583.79" y1="218.27" x2="589.39" y2="218.27" stroke="#bdbdbd" stroke-width="1"/>
<line x1="583.79" y1="254.71" x2="589.39" y2="254.71" stroke="#bdbdbd" stroke-width="1"/>
<line x1="590.54" y1="216.82" x2="590.54" y2="253.12" stroke="#bdbdbd" stroke-width="1"/>
<line x1="587.74" y1="216.82" x2="593.34" y2="216.82" stroke="#bdbdbd" stroke-width="1"/>
<line x1="587.74" y1="253.12" x2="593.34" y2="253.12" stroke="#bdbdbd" stroke-width="1"/>
<line x1="594.49" y1="215.05" x2="594.49" y2="250.60" stroke="#bdbdbd" stroke-width="1"/>
<line x1="591.69" y1="215.05" x2="597.29" y2="215.05" stroke="#bdbdbd" stroke-width="1"/>
<line x1="591.69" y1="250.60" x2="597.29" y2="250.60" stroke="#bdbdbd" stroke-width="1"/>
<line x1="598.44" y1="213.03" x2="598.44" y2="247.84" stroke="#bdbdbd" stroke-width="1"/>
<line x1="595.64" y1="213.03" x2="601.24" y2="213.03" stroke="#bdbdbd" stroke-width="1"/>
<line x1="595.64" y1="247.84" x2="601.24" y2="247.84" stroke="#bdbdbd" stroke-width="1"/>
<line x1="602.38" y1="211.13" x2="602.38" y2="245.54" stroke="#bdbdbd" stroke-width="1"/>
<line x1="599.58" y1="211.13" x2="605.18" y2="211.13" stroke="#bdbdbd" stroke-width="1"/>
<line x1="599.58" y1="245.54" x2="605.18" y2="245.54" stroke="#bdbdbd" stroke-width="1"/>
<line x1="606.33" y1="208.36" x2="606.33" y2="242.36" stroke="#bdbdbd" stroke-width="1"/>
<line x1="603.53" y1="208.36" x2="609.13" y2="208.36" stroke="#bdbdbd" stroke-width="1"/>
<line x1="603.53" y1="242.36" x2="609.13" y2="242.36" stroke="#bdbdbd" stroke-width="1"/>
<line x1="610.28" y1="204.63" x2="610.28" y2="238.60" stroke="#bdbdbd" stroke-width="1"/>
<line x1="607.48" y1="204.63" x2="613.08" y2="204.63" stroke="#bdbdbd" stroke-width="1"/>
<line x1="607.48" y1="238.60" x2="613.08" y2="238.60" stroke="#bdbdbd" stroke-width="1"/>
<line x1="614.23" y1="200.71" x2="614.23" y2="234.64" stroke="#bdbdbd" stroke-width="1"/>
<line x1="611.43" y1="200.71" x2="617.03" y2="200.71" stroke="#bdbdbd" stroke-width="1"/>
<line x1="611.43" y1="234.64" x2="617.03" y2="234.64" stroke="#bdbdbd" stroke-width="1"/>
<line x1="618.18" y1="196.30" x2="618.18" y2="230.20" stroke="#bdbdbd" stroke-width="1"/>
<line x1="615.38" y1="196.30" x2="620.98" y2="196.30" stroke="#bdbdbd" stroke-width="1"/>
<line x1="615.38" y1="230.20" x2="620.98" y2="230.20" stroke="#bdbdbd" stroke-width="1"/>
<line x1="622.12" y1="191.03" x2="622.12" y2="224.90" stroke="#bdbdbd" stroke-width="1"/>
<line x1="619.32" y1="191.03" x2="624.92" y2="191.03" stroke="#bdbdbd" stroke-width="1"/>
<line x1="619.32" y1="224.90" x2="624.92" y2="224.90" stroke="#bdbdbd" stroke-width="1"/>
<line x1="626.07" y1="185.69" x2="626.07" y2="219.52" stroke="#bdbdbd" stroke-width="1"/>
<line x1="623.27" y1="185.69" x2="628.87" y2="185.69" stroke="#bdbdbd" stroke-width="1"/>
<line x1="623.27" y1="219.52" x2="628.87" y2="219.52" stroke="#bdbdbd" stroke-width="1"/>
<line x1="630.02" y1="178.06" x2="630.02" y2="211.86" stroke="#bdbdbd" stroke-width="1"/>
<line x1="627.22" y1="178.06" x2="632.82" y2="178.06" stroke="#bdbdbd" stroke-width="1"/>
<line x1="627.22" y1="211.86" x2="632.82" y2="211.86" stroke="#bdbdbd" stroke-width="1"/>
<line x1="633.97" y1="169.65" x2="633.97" y2="204.04" stroke="#bdbdbd" stroke-width="1"/>
<line x1="631.17" y1="169.65" x2="636.77" y2="169.65" stroke="#bdbdbd" stroke-width="1"/>
<line x1="631.17" y1="204.04" x2="636.77" y2="204.04" stroke="#bdbdbd" stroke-width="1"/>
<line x1="637.92" y1="159.36" x2="637.92" y2="194.35" stroke="#bdbdbd" stroke-width="1"/>
<line x1="635.12" y1="159.36" x2="640.72" y2="159.36" stroke="#bdbdbd" stroke-width="1"/>
<line x1="635.12" y1="194.35" x2="640.72" y2="194.35" stroke="#bdbdbd" stroke-width="1"/>
<line x1="641.86" y1="149.34" x2="641.86" y2="184.54" stroke="#bdbdbd" stroke-width="1"/>
<line x1="639.06" y1="149.34" x2="644.66" y2="149.34" stroke="#bdbdbd" stroke-width="1"/>
<line x1="639.06" y1="184.54" x2="644.66" y2="184.54" stroke="#bdbdbd" stroke-width="1"/>
<line x1="645.81" y1="139.38" x2="645.81" y2="174.77" stroke="#bdbdbd" stroke-width="1"/>
<line x1="643.01" y1="139.38" x2="648.61" y2="139.38" stroke="#bdbdbd" stroke-width="1"/>
<line x1="643.01" y1="174.77" x2="648.61" y2="174.77" stroke="#bdbdbd" stroke-width="1"/>
<line x1="649.76" y1="130.27" x2="649.76" y2="165.86" stroke="#bdbdbd" stroke-width="1"/>
<line x1="646.96" y1="130.27" x2="652.56" y2="130.27" stroke="#bdbdbd" stroke-width="1"/>
<line x1="646.96" y1="165.86" x2="652.56" y2="165.86" stroke="#bdbdbd" stroke-width="1"/>
<line x1="653.71" y1="121.49" x2="653.71" y2="157.67" stroke="#bdbdbd" stroke-width="1"/>
<line x1="650.91" y1="121.49" x2="656.51" y2="121.49" stroke="#bdbdbd" stroke-width="1"/>
<line x1="650.91" y1="157.67" x2="656.51" y2="157.67" stroke="#bdbdbd" stroke-width="1"/>
<line x1="657.66" y1="111.43" x2="657.66" y2="148.26" stroke="#bdbdbd" stroke-width="1"/>
<line x1="654.86" y1="111.43" x2="660.46" y2="111.43" stroke="#bdbdbd" stroke-width="1"/>
<line x1="654.86" y1="148.26" x2="660.46" y2="148.26" stroke="#bdbdbd" stroke-width="1"/>
<line x1="661.60" y1="97.78" x2="661.60" y2="136.58" stroke="#bdbdbd" stroke-width="1"/>
<line x1="658.80" y1="97.78" x2="664.40" y2="97.78" stroke="#bdbdbd" stroke-width="1"/>
<line x1="658.80" y1="136.58" x2="664.40" y2="136.58" stroke="#bdbdbd" stroke-width="1"/>
<line x1="665.55" y1="81.72" x2="665.55" y2="122.34" stroke="#bdbdbd" stroke-width="1"/>
<line x1="662.75" y1="81.72" x2="668.35" y2="81.72" stroke="#bdbdbd" stroke-width="1"/>
<line x1="662.75" y1="122.34" x2="668.35" y2="122.34" stroke="#bdbdbd" stroke-width="1"/>
<line x1="669.50" y1="66.50" x2="669.50" y2="108.70" stroke="#bdbdbd" stroke-width="1"/>
<line x1="666.70" y1="66.50" x2="672.30" y2="66.50" stroke="#bdbdbd" stroke-width="1"/>
<line x1="666.70" y1="108.70" x2="672.30" y2="108.70" stroke="#bdbdbd" stroke-width="1"/>
<circle cx="412.88" cy="240.71" r="2.05" fill="#ff0000"/>
<circle cx="416.83" cy="240.81" r="2.05" fill="#ff0000"/>
<circle cx="420.78" cy="240.91" r="2.05" fill="#ff0000"/>
<circle cx="424.72" cy="241.01" r="2.05" fill="#ff0000"/>
<circle cx="428.67" cy="241.12" r="2.05" fill="#ff0000"/>
<circle cx="432.62" cy="241.22" r="2.05" fill="#ff0000"/>
<circle cx="436.57" cy="241.33" r="2.05" fill="#ff0000"/>
<circle cx="440.52" cy="241.44" r="2.05" fill="#ff0000"/>
<circle cx="444.46" cy="241.55" r="2.05" fill="#ff0000"/>
<circle cx="448.41" cy="241.66" r="2.05" fill="#ff0000"/>
<circle cx="452.36" cy="241.77" r="2.05" fill="#ff0000"/>
<circle cx="456.31" cy="241.88" r="2.05" fill="#ff0000"/>
<circle cx="460.26" cy="241.99" r="2.05" fill="#ff0000"/>
<circle cx="464.20" cy="242.10" r="2.05" fill="#ff0000"/>
<circle cx="468.15" cy="242.21" r="2.05" fill="#ff0000"/>
<circle cx="472.10" cy="242.33" r="2.05" fill="#ff0000"/>
<circle cx="476.05" cy="242.45" r="2.05" fill="#ff0000"/>
<circle cx="480.00" cy="242.57" r="2.05" fill="#ff0000"/>
<circle cx="483.94" cy="242.70" r="2.05" fill="#ff0000"/>
<circle cx="487.89" cy="242.83" r="2.05" fill="#ff0000"/>
<circle cx="491.84" cy="242.97" r="2.05" fill="#ff0000"/>
<circle cx="495.79" cy="243.13" r="2.05" fill="#ff0000"/>
<circle cx="499.74" cy="243.31" r="2.05" fill="#ff0000"/>
<circle cx="503.68" cy="243.48" r="2.05" fill="#ff0000"/>
<circle cx="507.63" cy="243.63" r="2.05" fill="#ff0000"/>
<circle cx="511.58" cy="243.74" r="2.05" fill="#ff0000"/>
<circle cx="515.53" cy="243.85" r="2.05" fill="#ff0000"/>
<circle cx="519.48" cy="243.96" r="2.05" fill="#ff0000"/>
<circle cx="523.42" cy="244.05" r="2.05" fill="#ff0000"/>
<circle cx="527.37" cy="244.13" r="2.05" fill="#ff0000"/>
<circle cx="531.32" cy="244.18" r="2.05" fill="#ff0000"/>
<circle cx="535.27" cy="244.20" r="2.05" fill="#ff0000"/>
<circle cx="539.22" cy="244.11" r="2.05" fill="#ff0000"/>
<circle cx="543.16" cy="243.88" r="2.05" fill="#ff0000"/>
<circle cx="547.11" cy="243.60" r="2.05" fill="#ff0000"/>
<circle cx="551.06" cy="243.33" r="2.05" fill="#ff0000"/>
<circle cx="555.01" cy="243.08" r="2.05" fill="#ff0000"/>
<circle cx="558.96" cy="242.79" r="2.05" fill="#ff0000"/>
<circle cx="562.90" cy="242.44" r="2.05" fill="#ff0000"/>
<circle cx="566.85" cy="242.00" r="2.05" fill="#ff0000"/>
<circle cx="570.80" cy="241.36" r="2.05" fill="#ff0000"/>
<circle cx="574.75" cy="239.95" r="2.05" fill="#ff0000"/>
<circle cx="578.70" cy="238.89" r="2.05" fill="#ff0000"/>
<circle cx="582.64" cy="237.45" r="2.05" fill="#ff0000"/>
<circle cx="586.59" cy="236.49" r="2.05" fill="#ff0000"/>
<circle cx="590.54" cy="234.97" r="2.05" fill="#ff0000"/>
<circle cx="594.49" cy="232.82" r="2.05" fill="#ff0000"/>
<circle cx="598.44" cy="230.44" r="2.05" fill="#ff0000"/>
<circle cx="602.38" cy="228.33" r="2.05" fill="#ff0000"/>
<circle cx="606.33" cy="225.36" r="2.05" fill="#ff0000"/>
<circle cx="610.28" cy="221.62" r="2.05" fill="#ff0000"/>
<circle cx="614.23" cy="217.68" r="2.05" fill="#ff0000"/>
<circle cx="618.18" cy="213.25" r="2.05" fill="#ff0000"/>
<circle cx="622.12" cy="207.97" r="2.05" fill="#ff0000"/>
<circle cx="626.07" cy="202.60" r="2.05" fill="#ff0000"/>
<circle cx="630.02" cy="194.96" r="2.05" fill="#ff0000"/>
<circle cx="633.97" cy="186.85" r="2.05" fill="#ff0000"/>
<circle cx="637.92" cy="176.86" r="2.05" fill="#ff0000"/>
<circle cx="641.86" cy="166.94" r="2.05" fill="#ff0000"/>
<circle cx="645.81" cy="157.07" r="2.05" fill="#ff0000"/>
<circle cx="649.76" cy="148.07" r="2.05" fill="#ff0000"/>
<circle cx="653.71" cy="139.58" r="2.05" fill="#ff0000"/>
<circle cx="657.66" cy="129.84" r="2.05" fill="#ff0000"/>
<circle cx="661.60" cy="117.18" r="2.05" fill="#ff0000"/>
<circle cx="665.55" cy="102.03" r="2.05" fill="#ff0000"/>
<circle cx="669.50" cy="87.60" r="2.05" fill="#ff0000"/>
</g>
<line x1="535.5" y1="59.4" x2="535.5" y2="269.5" stroke="#6a6a6a" stroke-width="1" stroke-dasharray="1,1.83"/>
<line x1="602.5" y1="59.4" x2="602.5" y2="269.5" stroke="#6a6a6a" stroke-width="1" stroke-dasharray="1,1.83"/>
<line x1="402" y1="59" x2="681" y2="59" stroke="#8a8a8a" stroke-width="2"/>
<line x1="679.8" y1="58" x2="679.8" y2="271.5" stroke="#6a6a6a" stroke-width="1.8"/>
<line x1="402" y1="270.6" x2="681" y2="270.6" stroke="#444" stroke-width="1.2"/>
<line x1="402.5" y1="58" x2="402.5" y2="272" stroke="#333" stroke-width="1"/>
<line x1="440.40" y1="270" x2="440.40" y2="277.2" stroke="#333333" stroke-width="1"/>
<text x="440.40" y="295.8" font-family='"Liberation Sans", sans-serif' font-size="12.2" class="t" fill="#222" text-anchor="middle">−7</text>
<line x1="482.85" y1="270" x2="482.85" y2="277.2" stroke="#333333" stroke-width="1"/>
<text x="482.85" y="295.8" font-family='"Liberation Sans", sans-serif' font-size="12.2" class="t" fill="#222" text-anchor="middle">−6</text>
<line x1="525.30" y1="270" x2="525.30" y2="277.2" stroke="#333333" stroke-width="1"/>
<text x="525.30" y="295.8" font-family='"Liberation Sans", sans-serif' font-size="12.2" class="t" fill="#222" text-anchor="middle">−5</text>
<line x1="567.75" y1="270" x2="567.75" y2="277.2" stroke="#333333" stroke-width="1"/>
<text x="567.75" y="295.8" font-family='"Liberation Sans", sans-serif' font-size="12.2" class="t" fill="#222" text-anchor="middle">−4</text>
<line x1="610.20" y1="270" x2="610.20" y2="277.2" stroke="#333333" stroke-width="1"/>
<text x="610.20" y="295.8" font-family='"Liberation Sans", sans-serif' font-size="12.2" class="t" fill="#222" text-anchor="middle">−3</text>
<line x1="652.65" y1="270" x2="652.65" y2="277.2" stroke="#333333" stroke-width="1"/>
<text x="652.65" y="295.8" font-family='"Liberation Sans", sans-serif' font-size="12.2" class="t" fill="#222" text-anchor="middle">−2</text>
<line x1="395.5" y1="64.60" x2="402.5" y2="64.60" stroke="#333333" stroke-width="1"/>
<text transform="translate(386,64.60) rotate(-90)" font-family='"Liberation Sans", sans-serif' font-size="12.2" class="t" fill="#222" text-anchor="middle">1.1</text>
<line x1="395.5" y1="117.40" x2="402.5" y2="117.40" stroke="#333333" stroke-width="1"/>
<text transform="translate(386,117.40) rotate(-90)" font-family='"Liberation Sans", sans-serif' font-size="12.2" class="t" fill="#222" text-anchor="middle">1.0</text>
<line x1="395.5" y1="170.20" x2="402.5" y2="170.20" stroke="#333333" stroke-width="1"/>
<text transform="translate(386,170.20) rotate(-90)" font-family='"Liberation Sans", sans-serif' font-size="12.2" class="t" fill="#222" text-anchor="middle">0.9</text>
<line x1="395.5" y1="223.00" x2="402.5" y2="223.00" stroke="#333333" stroke-width="1"/>
<text transform="translate(386,223.00) rotate(-90)" font-family='"Liberation Sans", sans-serif' font-size="12.2" class="t" fill="#222" text-anchor="middle">0.8</text>
<text x="412.9" y="42.9" font-family='"Liberation Sans", sans-serif' font-size="12.2" class="t" fill="#222" text-anchor="middle">16</text>
<text x="436.8" y="42.9" font-family='"Liberation Sans", sans-serif' font-size="12.2" class="t" fill="#222" text-anchor="middle">16</text>
<text x="460.6" y="42.9" font-family='"Liberation Sans", sans-serif' font-size="12.2" class="t" fill="#222" text-anchor="middle">16</text>
<text x="484.1" y="42.9" font-family='"Liberation Sans", sans-serif' font-size="12.2" class="t" fill="#222" text-anchor="middle">15</text>
<text x="507.6" y="42.9" font-family='"Liberation Sans", sans-serif' font-size="12.2" class="t" fill="#222" text-anchor="middle">13</text>
<text x="531" y="42.9" font-family='"Liberation Sans", sans-serif' font-size="12.2" class="t" fill="#222" text-anchor="middle">11</text>
<text x="554.7" y="42.9" font-family='"Liberation Sans", sans-serif' font-size="12.2" class="t" fill="#222" text-anchor="middle">11</text>
<text x="579" y="42.9" font-family='"Liberation Sans", sans-serif' font-size="12.2" class="t" fill="#222" text-anchor="middle">10</text>
<text x="602" y="42.9" font-family='"Liberation Sans", sans-serif' font-size="12.2" class="t" fill="#222" text-anchor="middle">7</text>
<text x="621.6" y="42.9" font-family='"Liberation Sans", sans-serif' font-size="12.2" class="t" fill="#222" text-anchor="middle">5</text>
<text x="641.6" y="42.9" font-family='"Liberation Sans", sans-serif' font-size="12.2" class="t" fill="#222" text-anchor="middle">4</text>
<text x="661.3" y="42.9" font-family='"Liberation Sans", sans-serif' font-size="12.2" class="t" fill="#222" text-anchor="middle">1</text>
<text x="541.4" y="321" font-family='"Liberation Sans", sans-serif' font-size="12.2" class="t" fill="#222" text-anchor="middle">Log(λ)</text>
<text transform="translate(357.1,164.4) rotate(-90)" font-family='"Liberation Sans", sans-serif' font-size="12" class="t" fill="#222" text-anchor="middle" textLength="94" lengthAdjust="spacingAndGlyphs">Binomial Deviance</text>
<text transform="translate(403.4,15.5) scale(0.83,1)" font-family='"Liberation Sans", sans-serif' font-size="19.6" font-weight="bold" fill="#000">B</text>
</svg>
</body></html>
